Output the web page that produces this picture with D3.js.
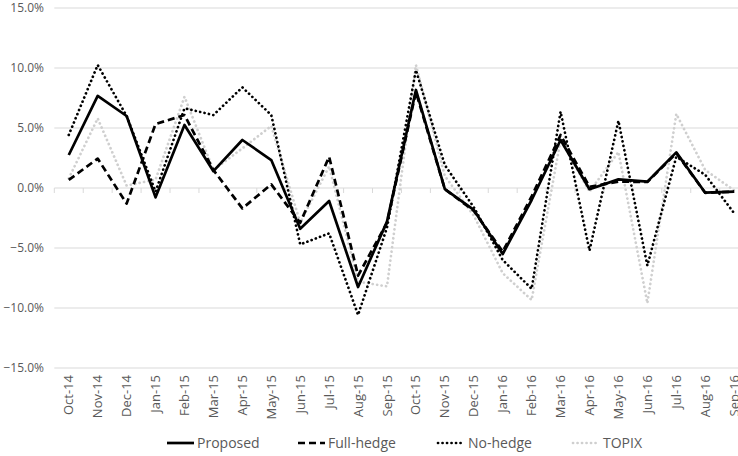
<!DOCTYPE html>
<html><head><meta charset="utf-8">
<script src="https://cdn.jsdelivr.net/npm/d3@7"></script>
<style>
html,body{margin:0;padding:0;background:#fff;overflow:hidden;}
svg{display:block;font-family:"Open Sans",sans-serif;}
</style></head>
<body>
<svg id="chart" width="738" height="456"></svg>
<script>
const months = ["Oct-14","Nov-14","Dec-14","Jan-15","Feb-15","Mar-15","Apr-15","May-15","Jun-15","Jul-15","Aug-15","Sep-15","Oct-15","Nov-15","Dec-15","Jan-16","Feb-16","Mar-16","Apr-16","May-16","Jun-16","Jul-16","Aug-16","Sep-16"];
const proposed  = [2.75, 7.67, 6.0, -0.78, 5.25, 1.4, 4.0, 2.33, -3.4, -1.08, -8.25, -2.8, 8.17, -0.1, -1.83, -5.5, -1.0, 4.0, -0.1, 0.72, 0.53, 2.97, -0.39, -0.3];
const fullHedge = [0.67, 2.45, -1.3, 5.33, 6.08, 1.5, -1.7, 0.3, -2.9, 2.6, -7.3, -2.9, 8.0, -0.1, -1.9, -5.3, -0.7, 4.42, 0.1, 0.53, 0.5, 2.9, -0.4, -0.3];
const noHedge   = [4.42, 10.25, 6.0, -0.3, 6.64, 6.08, 8.39, 6.08, -4.7, -3.78, -10.58, -3.3, 9.83, 1.9, -1.6, -6.0, -8.4, 6.36, -5.22, 5.6, -6.47, 2.6, 1.1, -2.1];
const topix     = [0.8, 5.8, 0.2, 0.7, 7.6, 1.5, 3.3, 5.17, -2.9, 1.8, -7.8, -8.2, 10.25, 1.0, -2.3, -7.1, -9.33, 4.0, -0.3, 3.0, -9.6, 6.17, 1.5, -0.2];
const yTicks = [-15, -10, -5, 0, 5, 10, 15];
const seriesNames = ["Proposed","Full-hedge","No-hedge","TOPIX"];

const svg = d3.select("#chart");
const x = d3.scaleBand().domain(months).range([54.3, 54.3 + 24 * 28.93]).paddingInner(0).paddingOuter(0);
const y = d3.scaleLinear().domain([-15, 15]).range([368, 8]);

const styles = [
  {data: proposed,  color: "#000", width: 2.7, dash: null, cap: "butt"},
  {data: fullHedge, color: "#000", width: 2.7, dash: "7,4", cap: "butt"},
  {data: noHedge,   color: "#000", width: 2.7, dash: "0.1,4.4", cap: "round"},
  {data: topix,     color: "#cfcfcf", width: 2.7, dash: "0.1,4.4", cap: "round"}
];

// gridlines
svg.append("g").selectAll("line").data(yTicks).join("line")
  .attr("x1", 54.3).attr("x2", 760)
  .attr("y1", d => y(d)).attr("y2", d => y(d))
  .attr("stroke", "#d9d9d9").attr("stroke-width", 1);

// y axis labels
const yAxis = d3.axisLeft(y).tickValues(yTicks).tickSize(0).tickPadding(0)
  .tickFormat(d => d3.format(".1f")(d) + "%");
const ya = svg.append("g").attr("transform", "translate(44,0)").call(yAxis);
ya.select(".domain").remove();
ya.selectAll("text").attr("fill", "#595959").style("font-size", "12px").style("font-family", "'Open Sans',sans-serif");

// category axis at 0 (ticks)
const xa = svg.append("g").attr("transform", `translate(0,${y(0)})`);
const bounds = months.map(m => x(m)).concat([x(months[23]) + x.bandwidth()]);
xa.selectAll("line.tk").data(bounds).join("line").attr("class", "tk")
  .attr("x1", d => d).attr("x2", d => d).attr("y1", 0).attr("y2", 5)
  .attr("stroke", "#d9d9d9").attr("stroke-width", 1);

// category labels at bottom
const lab = svg.append("g").attr("transform", `translate(0,${y(-15) + 7})`)
  .call(d3.axisBottom(x).tickSize(0).tickPadding(0));
lab.select(".domain").remove();
lab.selectAll("text")
  .attr("fill", "#595959").style("font-size", "13px").style("font-family", "'Open Sans',sans-serif")
  .attr("transform", "rotate(-90)").attr("text-anchor", "end")
  .attr("x", 0).attr("y", 0).attr("dy", "0.35em").attr("dx", 0);

// lines
const line = d3.line().x((d, i) => x(months[i]) + x.bandwidth() / 2).y(d => y(d));
[3, 2, 1, 0].forEach(k => {
  const s = styles[k];
  svg.append("path").datum(s.data).attr("d", line)
    .attr("fill", "none").attr("stroke", s.color).attr("stroke-width", s.width)
    .attr("stroke-dasharray", s.dash).attr("stroke-linecap", s.cap).attr("stroke-linejoin", "round");
});

// legend
const legX = [167, 298, 438, 573];
const lg = svg.append("g").attr("transform", "translate(0,443)");
seriesNames.forEach((n, k) => {
  const s = styles[k];
  lg.append("line").attr("x1", legX[k]).attr("x2", legX[k] + 27).attr("y1", 0).attr("y2", 0)
    .attr("stroke", s.color).attr("stroke-width", s.width)
    .attr("stroke-dasharray", s.dash).attr("stroke-linecap", s.cap);
  lg.append("text").attr("x", legX[k] + 30).attr("y", 0).attr("dy", "0.35em")
    .attr("fill", "#595959").style("font-size", "14px").text(n);
});
</script>
</body></html>
